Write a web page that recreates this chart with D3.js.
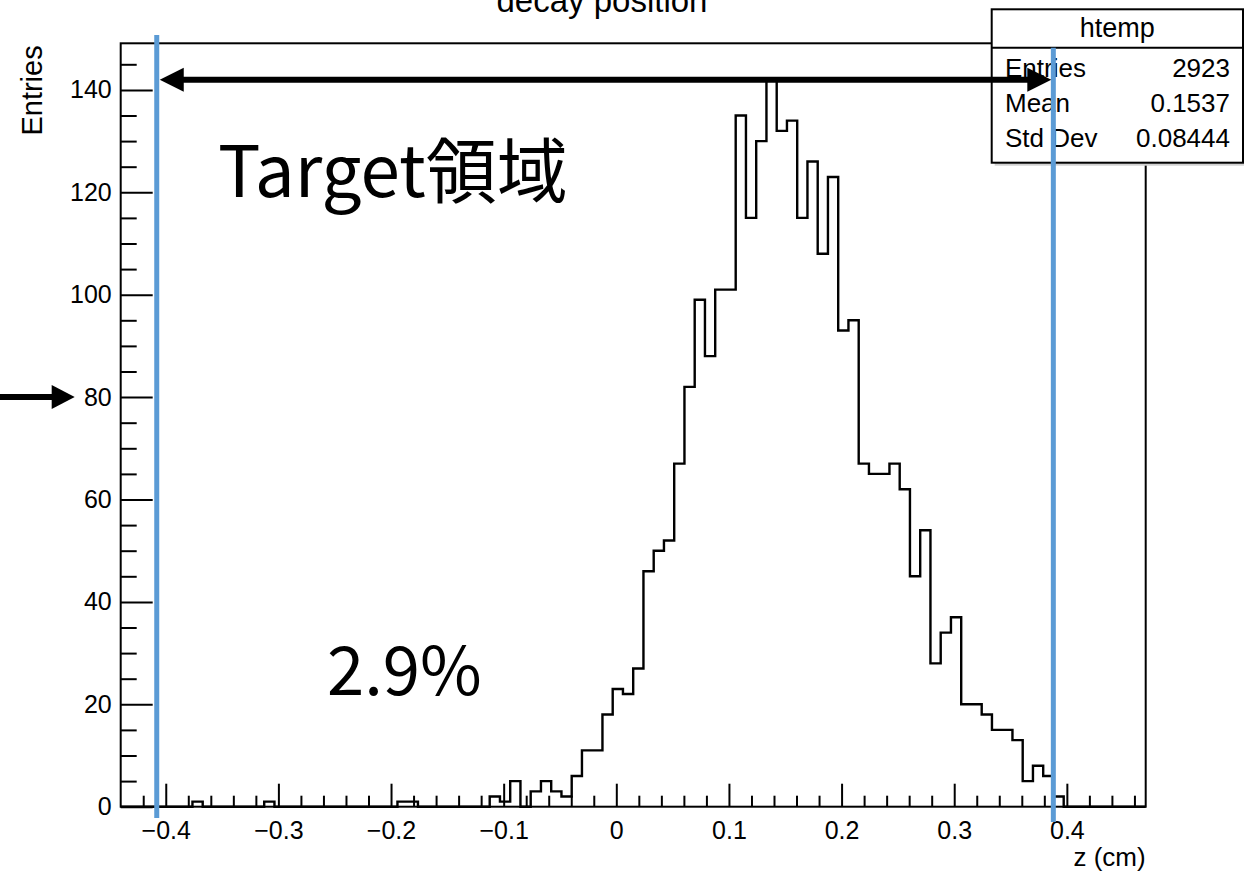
<!DOCTYPE html>
<html>
<head>
<meta charset="utf-8">
<script src="https://cdn.jsdelivr.net/npm/d3@7"></script>
<style>
  body { margin: 0; background: #fff; }
  svg { display: block; }
</style>
</head>
<body>
<div id="chart"></div>
<script>
// histogram: 100 equal bins between the x limits
const xLimits = [-0.44, 0.47];
const binCounts = [
  0, 0, 0, 0, 0, 0, 0, 1, 0, 0,
  0, 0, 0, 0, 1, 0, 0, 0, 0, 0,
  0, 0, 0, 0, 0, 0, 0, 1, 1, 0,
  0, 0, 0, 0, 0, 0, 2, 1, 5, 0,
  3, 5, 3, 2, 6, 11, 11, 18, 23, 22,
  27, 46, 50, 52, 67, 82, 99, 88, 101, 101,
  135, 115, 130, 142, 132, 134, 115, 126, 108, 123,
  93, 95, 67, 65, 65, 67, 62, 45, 54, 28,
  34, 37, 20, 20, 18, 15, 15, 13, 5, 8,
  6, 2, 0, 0, 0, 0, 0, 0, 0, 0
];
const yLimits = [0, 149.1];
const xMajorTicks = [-0.4, -0.3, -0.2, -0.1, 0, 0.1, 0.2, 0.3, 0.4];
const xMinorTicks = d3.range(-21, 24).map(d => d * 0.02).filter(d => Math.abs(Math.round(d * 50)) % 5 !== 0);
const yMajorTicks = [0, 20, 40, 60, 80, 100, 120, 140];
const yMinorTicks = d3.range(5, 150, 5).filter(d => d % 20 !== 0);

const statRows = [['Entries', '2923'], ['Mean', '0.1537'], ['Std Dev', '0.08444']];

// annotations drawn on top of the plot
const targetRegion = [-0.408, 0.388];
const arrowLevel = 142;
const markedLevel = 80;
const noteLabels = [
  { text: 'Target領域', x: -0.3536, y: 119.1, size: 71 },
  { text: '2.9%', x: -0.2568, y: 21.8, size: 67 }
];

const width = 1244;
const height = 875;
const margin = { top: 43.3, right: 98.3, bottom: 68.3, left: 120.7 };
const font = "'Liberation Sans', Arial, Helvetica, sans-serif";

const svg = d3.select('#chart').append('svg')
  .attr('width', width)
  .attr('height', height)
  .style('font-family', font);

const x = d3.scaleLinear().domain(xLimits).range([margin.left, width - margin.right]);
const y = d3.scaleLinear().domain(yLimits).range([height - margin.bottom, margin.top]);

const nBins = binCounts.length;
const binW = (xLimits[1] - xLimits[0]) / nBins;

// title (cut at the top edge, as in the original)
svg.append('text')
  .attr('x', 602).attr('y', 12)
  .attr('text-anchor', 'middle')
  .attr('font-size', 33)
  .text('decay position');

// histogram outline
const pts = [[xLimits[0], 0]];
binCounts.forEach((c, i) => {
  pts.push([xLimits[0] + i * binW, c]);
  pts.push([xLimits[0] + (i + 1) * binW, c]);
});
pts.push([xLimits[1], 0]);

svg.append('path')
  .datum(pts)
  .attr('fill', 'none')
  .attr('stroke', '#000')
  .attr('stroke-width', 2.4)
  .attr('d', d3.line().x(d => x(d[0])).y(d => y(d[1])));

// x axis
const xAxisG = svg.append('g')
  .attr('transform', `translate(0,${height - margin.bottom})`)
  .call(d3.axisBottom(x).tickValues(xMajorTicks).tickSizeInner(-23).tickSizeOuter(0).tickPadding(15)
    .tickFormat(d3.format('.1~f')));
xAxisG.select('.domain').remove();
xAxisG.selectAll('.tick line').attr('stroke-width', 2);
xAxisG.selectAll('.tick text').attr('font-size', 25).attr('fill', '#000').style('font-family', font);

svg.append('g')
  .attr('transform', `translate(0,${height - margin.bottom})`)
  .call(d3.axisBottom(x).tickValues(xMinorTicks).tickSizeInner(-11).tickSizeOuter(0).tickFormat(''))
  .call(g => g.select('.domain').remove())
  .call(g => g.selectAll('.tick line').attr('stroke-width', 2));

// y axis
const yAxisG = svg.append('g')
  .attr('transform', `translate(${margin.left},0)`)
  .call(d3.axisLeft(y).tickValues(yMajorTicks).tickSizeInner(-32).tickSizeOuter(0).tickPadding(9));
yAxisG.select('.domain').remove();
yAxisG.selectAll('.tick line').attr('stroke-width', 2);
yAxisG.selectAll('.tick text').attr('font-size', 25).attr('fill', '#000').style('font-family', font);

svg.append('g')
  .attr('transform', `translate(${margin.left},0)`)
  .call(d3.axisLeft(y).tickValues(yMinorTicks).tickSizeInner(-16).tickSizeOuter(0).tickFormat(''))
  .call(g => g.select('.domain').remove())
  .call(g => g.selectAll('.tick line').attr('stroke-width', 2));

// frame
svg.append('rect')
  .attr('x', margin.left).attr('y', margin.top)
  .attr('width', width - margin.left - margin.right)
  .attr('height', height - margin.top - margin.bottom)
  .attr('fill', 'none')
  .attr('stroke', '#000')
  .attr('stroke-width', 2);

// axis titles
svg.append('text')
  .attr('transform', `translate(42,${margin.top + 2}) rotate(-90)`)
  .attr('text-anchor', 'end')
  .attr('font-size', 29)
  .text('Entries');

svg.append('text')
  .attr('x', width - margin.right).attr('y', 866)
  .attr('text-anchor', 'end')
  .attr('font-size', 26)
  .text('z (cm)');

// stats box
const box = { x: 991.7, y: 9.3, w: 251.3, h: 153.4 };
svg.append('rect')
  .attr('x', box.x + 3).attr('y', box.y + 3)
  .attr('width', box.w).attr('height', box.h)
  .attr('fill', '#d0d0d0');
svg.append('rect')
  .attr('x', box.x).attr('y', box.y)
  .attr('width', box.w).attr('height', box.h)
  .attr('fill', '#fff')
  .attr('stroke', '#000')
  .attr('stroke-width', 2);
svg.append('line')
  .attr('x1', box.x).attr('x2', box.x + box.w)
  .attr('y1', 47.7).attr('y2', 47.7)
  .attr('stroke', '#000').attr('stroke-width', 2);
svg.append('text')
  .attr('x', box.x + box.w / 2).attr('y', 37)
  .attr('text-anchor', 'middle')
  .attr('font-size', 27)
  .text('htemp');
statRows.forEach((r, i) => {
  svg.append('text')
    .attr('x', 1005).attr('y', 77.3 + i * 34.7)
    .attr('font-size', 26)
    .text(r[0]);
  svg.append('text')
    .attr('x', 1230).attr('y', 77.3 + i * 34.7)
    .attr('text-anchor', 'end')
    .attr('font-size', 26)
    .text(r[1]);
});

// target region lines
const blue = '#5B9BD5';
svg.append('line')
  .attr('x1', x(targetRegion[0])).attr('x2', x(targetRegion[0]))
  .attr('y1', 35).attr('y2', 818)
  .attr('stroke', blue).attr('stroke-width', 5);
svg.append('line')
  .attr('x1', x(targetRegion[1])).attr('x2', x(targetRegion[1]))
  .attr('y1', 47.7).attr('y2', 822)
  .attr('stroke', blue).attr('stroke-width', 5);

// double arrow between the lines
const ay = y(arrowLevel);
const aL = x(targetRegion[0]) + 3;
const aR = x(targetRegion[1]) - 2;
const headLen = 24, headHalf = 12;
svg.append('line')
  .attr('x1', aL + headLen - 2).attr('x2', aR - headLen + 2)
  .attr('y1', ay).attr('y2', ay)
  .attr('stroke', '#000').attr('stroke-width', 6);
svg.append('path')
  .attr('d', `M${aL},${ay}L${aL + headLen},${ay - headHalf}L${aL + headLen},${ay + headHalf}Z`)
  .attr('fill', '#000');
svg.append('path')
  .attr('d', `M${aR},${ay}L${aR - headLen},${ay - headHalf}L${aR - headLen},${ay + headHalf}Z`)
  .attr('fill', '#000');

// arrow pointing at the 80 level
const my = y(markedLevel);
const tipX = margin.left - 46;
svg.append('line')
  .attr('x1', 0).attr('x2', tipX - 20)
  .attr('y1', my).attr('y2', my)
  .attr('stroke', '#000').attr('stroke-width', 6);
svg.append('path')
  .attr('d', `M${tipX},${my}L${tipX - 23},${my - 12}L${tipX - 23},${my + 12}Z`)
  .attr('fill', '#000');

// big notes
svg.selectAll('text.note')
  .data(noteLabels)
  .join('text')
  .attr('class', 'note')
  .attr('x', d => x(d.x))
  .attr('y', d => y(d.y))
  .attr('font-size', d => d.size)
  .style('font-family', "'Noto Sans CJK JP', 'Noto Sans', sans-serif")
  .text(d => d.text);
</script>
</body>
</html>
